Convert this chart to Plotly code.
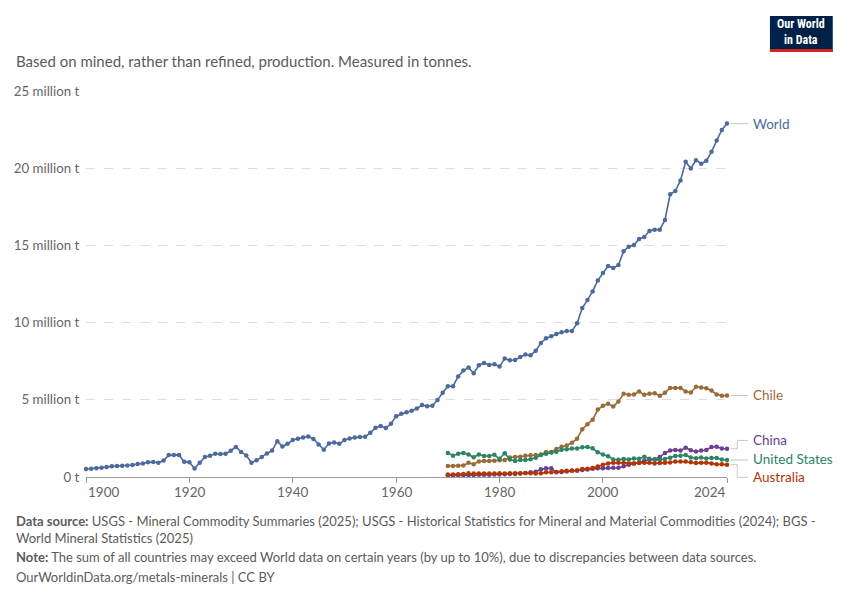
import plotly.graph_objs as go

# Produccion minera de cobre, millones de toneladas

years_world = list(range(1900, 2025))
world = [0.52, 0.54, 0.56, 0.60, 0.64, 0.70, 0.72, 0.73, 0.74, 0.78,
         0.84, 0.87, 0.95, 0.97, 0.93, 1.07, 1.42, 1.42, 1.43, 0.98,
         0.95, 0.55, 0.93, 1.30, 1.38, 1.50, 1.49, 1.50, 1.70, 1.95,
         1.62, 1.40, 0.92, 1.08, 1.30, 1.53, 1.72, 2.31, 1.98, 2.15,
         2.39, 2.48, 2.56, 2.63, 2.46, 2.11, 1.77, 2.17, 2.24, 2.15,
         2.39, 2.50, 2.56, 2.59, 2.61, 2.86, 3.19, 3.30, 3.17, 3.45,
         3.94, 4.09, 4.20, 4.29, 4.44, 4.66, 4.59, 4.61, 4.98, 5.45,
         5.88, 5.88, 6.51, 6.89, 7.09, 6.72, 7.24, 7.39, 7.26, 7.30,
         7.15, 7.67, 7.56, 7.58, 7.78, 7.93, 7.88, 8.18, 8.68, 8.98,
         9.11, 9.26, 9.37, 9.46, 9.46, 9.95, 10.94, 11.46, 12.02, 12.73,
         13.22, 13.66, 13.53, 13.73, 14.62, 14.92, 15.03, 15.42, 15.55, 15.94,
         16.02, 16.02, 16.65, 18.31, 18.52, 19.21, 20.42, 19.98, 20.52, 20.29,
         20.48, 21.06, 21.79, 22.48, 22.89]

years_countries = list(range(1970, 2025))
chile = [0.71, 0.72, 0.73, 0.75, 0.92, 0.83, 1.01, 1.04, 1.04, 1.06,
         1.08, 1.10, 1.26, 1.29, 1.31, 1.38, 1.41, 1.43, 1.46, 1.62,
         1.62, 1.82, 1.96, 2.04, 2.22, 2.48, 3.10, 3.42, 3.70, 4.37,
         4.61, 4.74, 4.57, 4.89, 5.39, 5.32, 5.34, 5.54, 5.32, 5.39,
         5.43, 5.26, 5.45, 5.77, 5.77, 5.77, 5.54, 5.47, 5.84, 5.79,
         5.75, 5.60, 5.34, 5.26, 5.28]
china = [0.10, 0.10, 0.11, 0.12, 0.12, 0.13, 0.14, 0.14, 0.15, 0.16,
         0.17, 0.18, 0.19, 0.20, 0.22, 0.26, 0.30, 0.34, 0.50, 0.56,
         0.56, 0.30, 0.33, 0.35, 0.40, 0.42, 0.45, 0.48, 0.54, 0.56,
         0.56, 0.58, 0.60, 0.60, 0.69, 0.80, 0.88, 0.95, 1.06, 1.12,
         1.15, 1.30, 1.56, 1.71, 1.75, 1.71, 1.90, 1.73, 1.65, 1.71,
         1.75, 1.94, 1.96, 1.85, 1.83]
united_states = [1.56, 1.38, 1.51, 1.56, 1.45, 1.28, 1.46, 1.36, 1.36, 1.44,
                 1.18, 1.54, 1.14, 1.04, 1.10, 1.10, 1.15, 1.24, 1.42, 1.50,
                 1.59, 1.63, 1.77, 1.80, 1.85, 1.85, 1.92, 1.94, 1.86, 1.60,
                 1.45, 1.34, 1.14, 1.12, 1.16, 1.14, 1.20, 1.19, 1.31, 1.18,
                 1.11, 1.11, 1.17, 1.25, 1.36, 1.38, 1.43, 1.26, 1.22, 1.26,
                 1.20, 1.23, 1.23, 1.13, 1.10]
australia = [0.16, 0.17, 0.18, 0.20, 0.24, 0.22, 0.22, 0.22, 0.22, 0.23,
             0.24, 0.23, 0.24, 0.25, 0.24, 0.26, 0.25, 0.23, 0.24, 0.30,
             0.31, 0.32, 0.38, 0.40, 0.42, 0.42, 0.52, 0.54, 0.58, 0.68,
             0.80, 0.88, 0.92, 0.92, 0.90, 0.88, 0.88, 0.90, 0.92, 0.92,
             0.88, 0.90, 0.93, 0.94, 1.00, 1.00, 1.00, 0.96, 0.90, 0.93,
             0.93, 0.88, 0.82, 0.82, 0.80]

ytick_vals = [0, 5, 10, 15, 20, 25]
ytick_text = ['0 t', '5 million t', '10 million t', '15 million t', '20 million t', '25 million t']
xtick_vals = [1900, 1920, 1940, 1960, 1980, 2000, 2024]

# nombre, años, valores, color, y de la etiqueta (millones t)
series = [
    ('World', years_world, world, '#4c6a9c', 22.89),
    ('Chile', years_countries, chile, '#9a6b37', 5.28),
    ('China', years_countries, china, '#6d3e91', 2.37),
    ('United States', years_countries, united_states, '#2c8465', 1.18),
    ('Australia', years_countries, australia, '#b13507', -0.02),
]

FONT = 'Lato, Roboto, sans-serif'
YMAX = 25
XLEFT = -0.1125  # borde izquierdo de los textos (en papel)

fig = go.Figure()
for nombre, xs, ys, color, ylab in series:
    fig.add_trace(go.Scatter(x=xs, y=ys, mode='lines+markers', name=nombre,
                             line=dict(color=color, width=1.6),
                             marker=dict(color=color, size=4.5),
                             cliponaxis=False, showlegend=False))

annotations = []
shapes = []

# etiquetas de las series con conectores
for nombre, xs, ys, color, ylab in series:
    yend = ys[-1] / YMAX
    ylab_p = ylab / YMAX
    if abs(yend - ylab_p) < 0.006:
        path = 'M 1.006,%f H 1.033' % yend
    else:
        path = 'M 1.006,%f H 1.016 V %f H 1.033' % (yend, ylab_p)
    shapes.append(dict(type='path', xref='paper', yref='paper', path=path,
                       line=dict(color='#c8c8c8', width=1)))
    annotations.append(dict(x=1.037, y=ylab_p, xref='paper', yref='paper', text=nombre,
                            showarrow=False, xanchor='left', yanchor='middle',
                            font=dict(family=FONT, size=13.5, color=color)))

# etiquetas del eje x
for v in xtick_vals:
    anchor = 'center'
    if v == xtick_vals[0]:
        anchor = 'left'
    elif v == xtick_vals[-1]:
        anchor = 'right'
    annotations.append(dict(x=v, y=0, xref='x', yref='paper', text=str(v),
                            showarrow=False, xanchor=anchor, yanchor='top', yshift=-5,
                            font=dict(family=FONT, size=13.5, color='#666666')))

# subtitulo
annotations.append(dict(x=XLEFT, y=1.078, xref='paper', yref='paper',
                        text='Based on mined, rather than refined, production. Measured in tonnes.',
                        showarrow=False, xanchor='left', yanchor='middle',
                        font=dict(family=FONT, size=15, color='#5b5b5b')))

# pie de pagina
footer = [
    (-0.115, '<b>Data source:</b> USGS - Mineral Commodity Summaries (2025); USGS - Historical Statistics for Mineral and Material Commodities (2024); BGS -'),
    (-0.157, 'World Mineral Statistics (2025)'),
    (-0.206, '<b>Note:</b> The sum of all countries may exceed World data on certain years (by up to 10%), due to discrepancies between data sources.'),
    (-0.260, 'OurWorldinData.org/metals-minerals | CC BY'),
]
for yy, txt in footer:
    annotations.append(dict(x=XLEFT, y=yy, xref='paper', yref='paper', text=txt,
                            showarrow=False, xanchor='left', yanchor='middle',
                            font=dict(family=FONT, size=13, color='#5b5b5b')))

# logo
shapes.append(dict(type='rect', xref='paper', yref='paper', x0=1.067, x1=1.165,
                   y0=1.101, y1=1.194, fillcolor='#002147', line=dict(width=0)))
shapes.append(dict(type='rect', xref='paper', yref='paper', x0=1.067, x1=1.165,
                   y0=1.101, y1=1.109, fillcolor='#ce261e', line=dict(width=0)))
annotations.append(dict(x=1.116, y=1.152, xref='paper', yref='paper',
                        text='<b>Our World<br>in Data</b>', showarrow=False,
                        xanchor='center', yanchor='middle',
                        font=dict(family='Roboto Condensed, Roboto, sans-serif', size=12, color='white')))

# la pagina tiene 8px de margen en el body, se compensa aqui
fig.update_layout(
    width=850, height=600,
    margin=dict(l=78, r=131, t=83, b=131),
    plot_bgcolor='white', paper_bgcolor='white',
    font=dict(family=FONT, color='#666666'),
    xaxis=dict(range=[1900, 2024], showgrid=False, zeroline=False, automargin=False,
               showline=True, linecolor='#999999', linewidth=1,
               ticks='outside', ticklen=5, tickcolor='#999999',
               tickvals=xtick_vals, showticklabels=False),
    yaxis=dict(range=[0, YMAX], tickvals=ytick_vals, ticktext=ytick_text,
               showgrid=True, gridcolor='#dddddd', griddash='dash', gridwidth=1,
               zeroline=False, showline=False, automargin=False,
               ticks='outside', ticklen=3, tickcolor='rgba(0,0,0,0)',
               tickfont=dict(family=FONT, size=13.3, color='#666666')),
    annotations=annotations,
    shapes=shapes,
)

fig.write_html("out.html")
